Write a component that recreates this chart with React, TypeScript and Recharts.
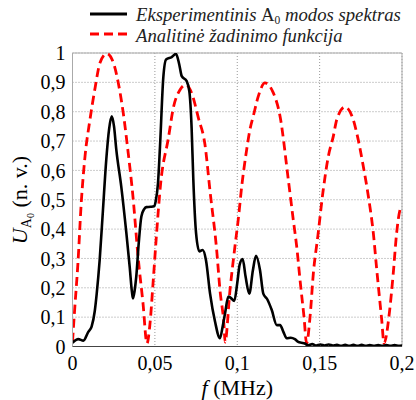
import React from 'react';
import {
  LineChart,
  Line,
  XAxis,
  YAxis,
  CartesianGrid,
  Legend,
  ReferenceArea,
} from 'recharts';

// measured A0 mode spectrum (normalised)
const expFreq = [
  0, 0.0035, 0.0066, 0.0096, 0.0116, 0.0135, 0.0147, 0.0165, 0.0185, 0.0205,
  0.0222, 0.0238, 0.0252, 0.0266, 0.0296, 0.0327, 0.0347, 0.0361, 0.0367, 0.0377,
  0.0387, 0.0402, 0.0418, 0.0435, 0.0448, 0.0475, 0.0495, 0.0505, 0.0519, 0.0531,
  0.0551, 0.0568, 0.0602, 0.0628, 0.0648, 0.0663, 0.0693, 0.0709, 0.0723, 0.0733,
  0.075, 0.077, 0.079, 0.081, 0.0835, 0.0865, 0.0895, 0.0912, 0.0926, 0.0946,
  0.0962, 0.0982, 0.1, 0.1015, 0.1033, 0.105, 0.1073, 0.1095, 0.1114, 0.1138,
  0.1158, 0.1182, 0.1209, 0.124, 0.126, 0.128, 0.13, 0.1325, 0.135, 0.137,
  0.139, 0.141, 0.143, 0.1455, 0.148, 0.1505, 0.153, 0.1555, 0.158, 0.1605,
  0.163, 0.1655, 0.168, 0.1705, 0.173, 0.1755, 0.178, 0.1805, 0.183, 0.1855,
  0.188, 0.1905, 0.193, 0.1955, 0.198, 0.2,
];
const expAmp = [
  0.013, 0.025, 0.02, 0.05, 0.068, 0.12, 0.18, 0.295, 0.466, 0.637,
  0.74, 0.784, 0.75, 0.67, 0.545, 0.386, 0.272, 0.185, 0.164, 0.19,
  0.238, 0.352, 0.443, 0.468, 0.475, 0.476, 0.478, 0.495, 0.557, 0.68,
  0.915, 0.978, 0.986, 0.997, 0.961, 0.921, 0.904, 0.87, 0.745, 0.574,
  0.386, 0.324, 0.329, 0.295, 0.18, 0.085, 0.028, 0.07, 0.113, 0.17,
  0.165, 0.155, 0.216, 0.28, 0.298, 0.24, 0.18, 0.26, 0.309, 0.261,
  0.18, 0.161, 0.125, 0.073, 0.073, 0.05, 0.028, 0.03, 0.025, 0.016,
  0.013, 0.01, 0.004, 0.008, 0.003, 0.007, 0.003, 0.007, 0.003, 0.006,
  0.002, 0.006, 0.002, 0.006, 0.002, 0.006, 0.002, 0.005, 0.002, 0.005,
  0.002, 0.005, 0.002, 0.005, 0.002, 0.003,
];

// analytic excitation function
const anaFreq = [
  0, 0.0013, 0.0033, 0.0053, 0.0076, 0.0106, 0.0137, 0.0167, 0.0208, 0.0248,
  0.0278, 0.0308, 0.0338, 0.0367, 0.0398, 0.0428, 0.0452, 0.0469, 0.0489, 0.0509,
  0.0535, 0.0582, 0.0612, 0.0653, 0.0689, 0.0723, 0.0764, 0.0804, 0.0835, 0.0875,
  0.0895, 0.092, 0.0926, 0.0956, 0.0986, 0.1006, 0.1027, 0.1057, 0.1077, 0.1097,
  0.1128, 0.1168, 0.1219, 0.126, 0.131, 0.134, 0.1363, 0.1381, 0.1405, 0.1421,
  0.1442, 0.1462, 0.1489, 0.1522, 0.1553, 0.1583, 0.1604, 0.1654, 0.1704, 0.1725,
  0.1765, 0.1796, 0.1826, 0.1847, 0.1877, 0.1891, 0.1923, 0.1947, 0.1968, 0.1988,
  0.2,
];
const anaAmp = [
  0.016, 0.125, 0.284, 0.489, 0.648, 0.773, 0.881, 0.967, 0.998, 0.967,
  0.898, 0.796, 0.66, 0.511, 0.306, 0.147, 0.01, 0.07, 0.216, 0.375,
  0.555, 0.71, 0.813, 0.875, 0.892, 0.864, 0.779, 0.688, 0.528, 0.329,
  0.193, 0.068, 0.015, 0.193, 0.341, 0.432, 0.545, 0.67, 0.739, 0.784,
  0.853, 0.898, 0.864, 0.784, 0.568, 0.432, 0.33, 0.227, 0.102, 0.011,
  0.102, 0.25, 0.375, 0.534, 0.648, 0.716, 0.773, 0.816, 0.773, 0.728,
  0.614, 0.511, 0.386, 0.26, 0.09, 0.011, 0.113, 0.25, 0.39, 0.466,
  0.48,
];

const xTicks = [0, 0.05, 0.1, 0.15, 0.2];
const yTicks = [0, 0.1, 0.2, 0.3, 0.4, 0.5, 0.6, 0.7, 0.8, 0.9, 1];

const expData = expFreq.map((f, i) => ({ f, v: expAmp[i] }));
const anaData = anaFreq.map((f, i) => ({ f, v: anaAmp[i] }));

const FONT = "'Liberation Serif', 'Times New Roman', serif";
const RED_DASH = '9 5';

const comma = (v: number) => String(v).replace('.', ',');

function LegendBox() {
  return (
    <svg width={330} height={48} style={{ display: 'block' }}>
      <line x1={10} y1={14} x2={47} y2={14} stroke="#000" strokeWidth={3} />
      <text x={56} y={20.5} fontFamily={FONT} fontSize={18.7} fontStyle="italic" fill="#222">
        Eksperimentinis{' '}
        <tspan fontStyle="normal">A</tspan>
        <tspan fontStyle="normal" fontSize={11.5} dy={3}>0</tspan>
        <tspan dy={-3}> modos spektras</tspan>
      </text>
      <line x1={10} y1={34} x2={47} y2={34} stroke="#ff0000" strokeWidth={3} strokeDasharray={RED_DASH} />
      <text x={56} y={42} fontFamily={FONT} fontSize={18.7} fontStyle="italic" fill="#222">
        Analitinė žadinimo funkcija
      </text>
    </svg>
  );
}

function YTitle() {
  const cx = 27;
  const cy = 200;
  return (
    <text
      x={cx}
      y={cy}
      transform={`rotate(-90, ${cx}, ${cy})`}
      textAnchor="middle"
      fontFamily={FONT}
      fontSize={22}
      fill="#000"
    >
      <tspan fontStyle="italic">U</tspan>
      <tspan fontSize={14} dy={4}>A</tspan>
      <tspan fontSize={10} dy={3}>0</tspan>
      <tspan dy={-7}> (n. v.)</tspan>
    </text>
  );
}

function XTitle({ viewBox }: any) {
  const cx = viewBox ? viewBox.x + viewBox.width / 2 : 237;
  return (
    <text x={cx} y={395} textAnchor="middle" fontFamily={FONT} fontSize={22} fill="#000">
      <tspan fontStyle="italic">f</tspan>
      <tspan> (MHz)</tspan>
    </text>
  );
}

export default function App() {
  return (
    <div style={{ position: 'absolute', left: 0, top: 0, width: 416, height: 400, background: '#fff', fontFamily: FONT }}>
      <LineChart
        width={416}
        height={400}
        margin={{ top: 53, right: 14, bottom: 0, left: 0 }}
      >
        <CartesianGrid stroke="#999" strokeDasharray="1 2" />
        <ReferenceArea x1={0} x2={0.2} y1={0} y2={1} fill="none" stroke="#aaa" strokeWidth={1} ifOverflow="visible" />
        <XAxis
          dataKey="f"
          type="number"
          domain={[0, 0.2]}
          ticks={xTicks}
          tickFormatter={comma}
          height={53.5}
          tickLine={false}
          tickSize={6}
          tickMargin={3}
          axisLine={{ stroke: '#444' }}
          tick={{ fill: '#000', fontSize: 20, fontFamily: FONT }}
          allowDataOverflow
          label={<XTitle />}
        />
        <YAxis
          type="number"
          domain={[0, 1]}
          ticks={yTicks}
          tickFormatter={comma}
          width={72.5}
          tickLine={false}
          tickSize={6}
          tickMargin={1}
          axisLine={{ stroke: '#aaa' }}
          tick={{ fill: '#000', fontSize: 20, fontFamily: FONT }}
          allowDataOverflow
          label={<YTitle />}
        />
        <Legend
          layout="vertical"
          align="center"
          verticalAlign="middle"
          wrapperStyle={{ top: 0, left: 80, width: 330 }}
          content={() => <LegendBox />}
        />
        <Line
          data={anaData}
          dataKey="v"
          type="monotone"
          stroke="#ff0000"
          strokeWidth={2.8}
          strokeDasharray={RED_DASH}
          dot={false}
          activeDot={false}
          isAnimationActive={false}
        />
        <Line
          data={expData}
          dataKey="v"
          type="monotone"
          stroke="#000"
          strokeWidth={2.6}
          dot={false}
          activeDot={false}
          isAnimationActive={false}
        />
      </LineChart>
    </div>
  );
}
